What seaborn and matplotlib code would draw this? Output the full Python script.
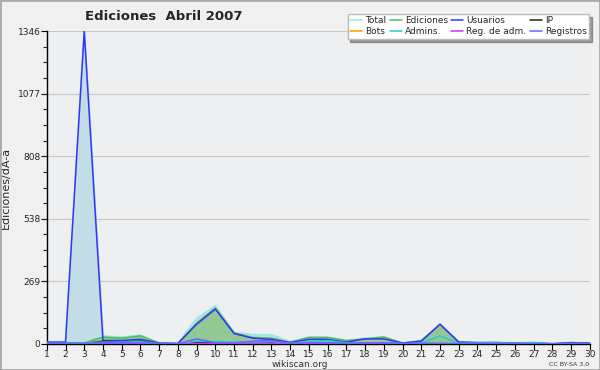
import numpy as np
import pandas as pd
import matplotlib
matplotlib.use("Agg")
import matplotlib.pyplot as plt
import seaborn as sns

days = list(range(1, 31))
total = [8, 8, 1346, 35, 30, 38, 5, 3, 110, 165, 50, 40, 40, 10, 30, 30, 15, 25, 30, 5,
         15, 85, 10, 7, 8, 5, 8, 2, 6, 5]
ediciones = [6, 6, 5, 30, 25, 35, 4, 2, 90, 155, 48, 28, 25, 8, 28, 28, 15, 22, 30, 4,
             14, 85, 8, 5, 6, 3, 5, 1, 5, 4]
usuarios = [8, 8, 1346, 15, 15, 20, 4, 2, 85, 150, 45, 25, 20, 6, 20, 20, 8, 22, 22, 4,
            12, 85, 8, 6, 6, 4, 5, 1, 6, 4]
ip = [2, 2, 2, 12, 8, 12, 1, 1, 5, 5, 3, 3, 5, 2, 3, 3, 3, 3, 3, 1,
      2, 1, 1, 1, 1, 1, 1, 0, 1, 1]
bots = [0] * 30
admins = [3, 3, 4, 8, 8, 10, 2, 1, 12, 10, 8, 8, 10, 3, 10, 15, 5, 5, 5, 2,
          3, 35, 3, 4, 5, 3, 6, 1, 2, 2]
reg_adm = [0, 0, 0, 2, 2, 2, 0, 0, 2, 2, 2, 2, 2, 0, 2, 2, 1, 1, 1, 0,
           1, 1, 0, 0, 0, 0, 0, 0, 0, 0]
registros = [3, 3, 3, 5, 5, 5, 2, 1, 22, 5, 5, 12, 15, 3, 5, 5, 3, 5, 5, 2,
             3, 3, 2, 2, 2, 2, 2, 0, 2, 2]
yticks = [0, 269, 538, 808, 1077, 1346]

series = [
    ("Total", total, "#99e8e0"),
    ("Ediciones", ediciones, "#55bb55"),
    ("Usuarios", usuarios, "#3333ff"),
    ("IP", ip, "#222222"),
    ("Bots", bots, "#ff9900"),
    ("Admins.", admins, "#22cccc"),
    ("Reg. de adm.", reg_adm, "#cc33ff"),
    ("Registros", registros, "#6666ff"),
]

sns.set_style("white")
plt.rcParams['font.family'] = ['DejaVu Sans']

fig = plt.figure(figsize=(6, 3.7), dpi=100, facecolor="#f0f0f0")
ax = fig.add_axes([0.078, 0.0703, 0.905, 0.8457])
ax.set_facecolor("#eeeff1")

ax.fill_between(days, total, color="#c2dde6", zorder=1)
ax.fill_between(days, ediciones, color="#92c992", zorder=2)

handles = {}
for name, vals, col in series:
    df = pd.DataFrame({"day": days, "v": vals})
    sns.lineplot(data=df, x="day", y="v", ax=ax, color=col, linewidth=1.1, zorder=3)
    handles[name] = plt.Line2D([], [], color=col, linewidth=1.1)

ax.set_xlim(1, 30)
ax.set_ylim(0, 1346)
ax.set_xticks(days)
ax.set_xticklabels([str(d) for d in days], fontsize=6.5)
ax.set_yticks(yticks)
ax.set_yticklabels([str(t) for t in yticks], fontsize=6.5)
ax.set_yticks(np.arange(0, 1346, 67.3), minor=True)
ax.yaxis.grid(True, color="#c8c8c8", linewidth=0.8)
ax.set_axisbelow(True)
ax.tick_params(axis="both", which="major", length=4, width=0.8, pad=0.5, direction="out", color="black", left=True, bottom=True)
ax.tick_params(axis="y", which="minor", length=3, width=0.8, left=True)
for s in ["top", "right"]:
    ax.spines[s].set_visible(False)
for s in ["left", "bottom"]:
    ax.spines[s].set_color("black")
    ax.spines[s].set_linewidth(1)
ax.set_xlabel("")
ax.set_ylabel("Ediciones/dÃ-a", fontsize=8)
ax.yaxis.set_label_coords(-0.066, 0.5)

fig.text(0.142, 0.947, "Ediciones  Abril 2007", fontsize=9.5, fontweight="bold")
fig.text(0.5, 0.008, "wikiscan.org", fontsize=6.5, ha="center", color="#333333")
fig.text(0.982, 0.012, "CC BY-SA 3.0", fontsize=4.5, ha="right", color="#333333")

order = ["Total", "Bots", "Ediciones", "Admins.", "Usuarios", "Reg. de adm.", "IP", "Registros"]
leg = fig.legend([handles[n] for n in order], order, ncol=4, loc="upper right",
                 bbox_to_anchor=(0.99, 0.975), fontsize=6.5, frameon=True, fancybox=False,
                 shadow=True, handlelength=1.3, handletextpad=0.35, columnspacing=0.4,
                 labelspacing=0.2, borderpad=0.3)
leg.get_frame().set_edgecolor("#bbbbbb")
leg.get_frame().set_facecolor("white")

border = plt.Rectangle((0, 0), 1, 1, transform=fig.transFigure, fill=False,
                       edgecolor="#aaaaaa", linewidth=2)
fig.add_artist(border)

fig.savefig("out.png", dpi=100, facecolor=fig.get_facecolor())
